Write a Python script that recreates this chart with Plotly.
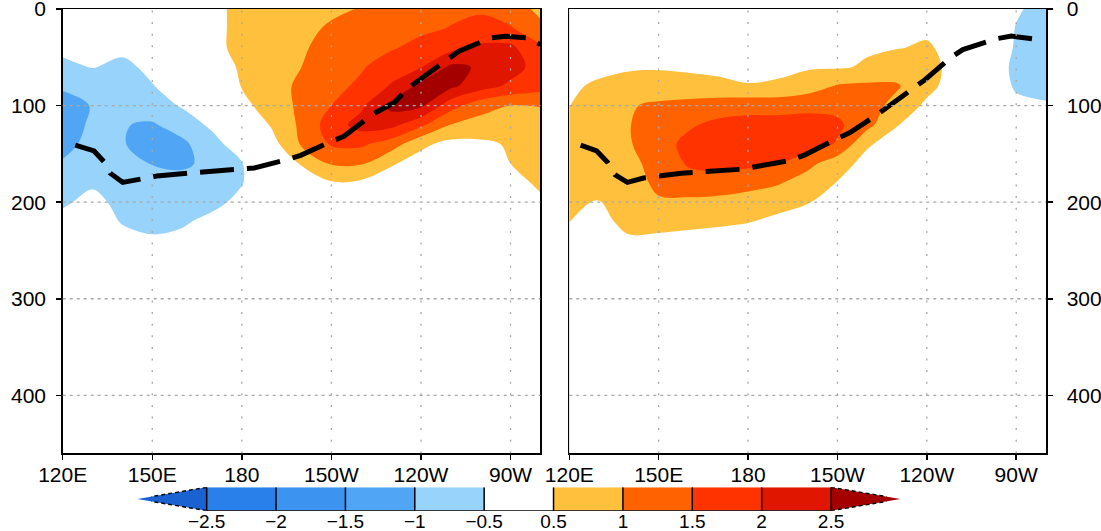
import plotly.graph_objects as go

# ---------------- data ----------------
lons = [120, 130, 140, 150, 160, 170, 180, 190, 200, 210, 220, 230, 240, 250, 260, 270, 280]
depths = [0, 20, 40, 60, 80, 100, 120, 140, 160, 180, 200, 220, 240, 280, 460]

# temperature anomaly (degC), rows = depths, cols = lons  (left panel)
left_anom = [
    [-0.2, -0.2, -0.1, 0.0, 0.2, 0.4, 0.6, 0.75, 0.85, 0.93, 1.02, 1.2, 1.3, 1.4, 1.45, 1.2, 0.9],
    [-0.3, -0.3, -0.2, 0.0, 0.2, 0.4, 0.6, 0.8, 0.9, 1.05, 1.2, 1.3, 1.4, 1.52, 1.62, 1.55, 1.1],
    [-0.4, -0.35, -0.4, -0.2, 0.1, 0.4, 0.6, 0.85, 0.95, 1.15, 1.35, 1.45, 1.65, 1.85, 2.1, 2.1, 1.6],
    [-0.6, -0.48, -0.6, -0.4, -0.1, 0.3, 0.55, 0.8, 1.0, 1.3, 1.45, 1.75, 1.98, 2.6, 2.45, 2.2, 1.8],
    [-0.95, -0.85, -0.75, -0.52, -0.3, 0.1, 0.52, 0.8, 1.1, 1.35, 1.6, 2.05, 2.65, 2.6, 2.2, 1.9, 1.7],
    [-1.15, -0.98, -0.95, -0.75, -0.45, -0.1, 0.35, 0.75, 1.1, 1.5, 1.9, 2.65, 2.6, 1.7, 1.2, 0.98, 1.02],
    [-1.15, -0.95, -0.98, -1.05, -0.8, -0.4, 0.0, 0.55, 1.1, 1.75, 2.2, 2.15, 1.6, 0.98, 0.8, 0.75, 0.8],
    [-1.1, -0.9, -0.97, -1.2, -1.1, -0.7, -0.2, 0.3, 1.05, 1.55, 1.58, 1.25, 0.6, 0.35, 0.4, 0.55, 0.6],
    [-0.97, -0.75, -0.8, -1.02, -1.1, -0.85, -0.52, -0.1, 0.55, 1.05, 1.05, 0.55, 0.3, 0.2, 0.3, 0.5, 0.6],
    [-0.75, -0.55, -0.7, -0.8, -0.8, -0.7, -0.52, -0.15, 0.2, 0.45, 0.4, 0.25, 0.15, 0.1, 0.2, 0.4, 0.55],
    [-0.55, -0.4, -0.6, -0.7, -0.7, -0.6, -0.4, -0.15, 0.05, 0.2, 0.2, 0.15, 0.1, 0.05, 0.1, 0.2, 0.45],
    [-0.4, -0.35, -0.52, -0.6, -0.55, -0.4, -0.25, -0.1, 0.0, 0.05, 0.1, 0.1, 0.05, 0.0, 0.05, 0.1, 0.2],
    [-0.3, -0.3, -0.4, -0.45, -0.4, -0.3, -0.2, -0.1, 0.0, 0.0, 0.05, 0.05, 0.0, 0.0, 0.0, 0.05, 0.1],
    [-0.15, -0.15, -0.2, -0.2, -0.2, -0.15, -0.1, -0.05, 0.0, 0.0, 0.0, 0.0, 0.0, 0.0, 0.0, 0.0, 0.05],
    [0.0] * 17,
]

# right panel
right_anom = [
    [0.1, 0.1, 0.15, 0.15, 0.2, 0.2, 0.2, 0.2, 0.25, 0.25, 0.3, 0.3, 0.3, 0.2, -0.1, -0.45, -0.65],
    [0.1, 0.15, 0.15, 0.2, 0.2, 0.2, 0.2, 0.25, 0.3, 0.35, 0.4, 0.42, 0.42, 0.3, -0.1, -0.52, -0.7],
    [0.25, 0.3, 0.3, 0.3, 0.3, 0.3, 0.3, 0.35, 0.4, 0.42, 0.45, 0.48, 0.55, 0.35, -0.1, -0.55, -0.7],
    [0.35, 0.42, 0.47, 0.47, 0.45, 0.43, 0.4, 0.42, 0.45, 0.45, 0.55, 0.75, 0.7, 0.3, -0.2, -0.6, -0.7],
    [0.45, 0.55, 0.6, 0.65, 0.62, 0.57, 0.52, 0.55, 0.75, 1.05, 1.1, 1.05, 0.65, 0.25, -0.2, -0.55, -0.65],
    [0.48, 0.75, 0.95, 1.1, 1.2, 1.3, 1.35, 1.35, 1.4, 1.35, 1.2, 0.85, 0.4, 0.15, -0.1, -0.4, -0.45],
    [0.7, 0.85, 0.98, 1.25, 1.45, 1.6, 1.65, 1.65, 1.65, 1.6, 1.15, 0.52, 0.25, 0.1, 0.0, -0.1, -0.15],
    [0.75, 0.8, 0.95, 1.35, 1.6, 1.75, 1.8, 1.75, 1.75, 1.45, 0.55, 0.3, 0.15, 0.1, 0.0, -0.05, -0.1],
    [0.7, 0.75, 0.85, 1.2, 1.55, 1.65, 1.6, 1.55, 1.15, 0.7, 0.35, 0.2, 0.1, 0.05, 0.0, 0.0, -0.05],
    [0.65, 0.65, 0.8, 1.1, 1.3, 1.3, 1.2, 1.05, 0.75, 0.48, 0.3, 0.15, 0.1, 0.05, 0.0, 0.0, 0.0],
    [0.55, 0.48, 0.75, 0.95, 0.9, 0.85, 0.75, 0.65, 0.52, 0.35, 0.2, 0.1, 0.05, 0.0, 0.0, 0.0, 0.0],
    [0.51, 0.4, 0.6, 0.65, 0.62, 0.58, 0.52, 0.4, 0.3, 0.2, 0.1, 0.05, 0.0, 0.0, 0.0, 0.0, 0.0],
    [0.3, 0.3, 0.45, 0.4, 0.35, 0.3, 0.25, 0.2, 0.15, 0.1, 0.05, 0.0, 0.0, 0.0, 0.0, 0.0, 0.0],
    [0.15, 0.15, 0.2, 0.2, 0.15, 0.15, 0.1, 0.1, 0.05, 0.05, 0.0, 0.0, 0.0, 0.0, 0.0, 0.0, 0.0],
    [0.0] * 17,
]

# thermocline (20C isotherm) depth
left_thermo_lon = [124.2, 130.5, 134.1, 135.9, 140.1, 146.1, 151.5, 161.8, 175.6, 184.1, 194.9, 199.7,
                   210.0, 214.2, 223.8, 231.0, 235.8, 249.1, 252.7, 263.6, 268.4, 275.6, 280.0]
left_thermo_dep = [141, 147, 159, 170, 179.5, 176, 173, 170, 167, 164.6, 156, 151.5,
                   137, 131.8, 109, 97, 81.7, 50.6, 43.7, 29.8, 28.2, 29.8, 36.8]
right_thermo_lon = [123.8, 129.2, 132.9, 135.3, 139.5, 144.9, 157.6, 177.4, 193.7, 199.1, 209.3, 214.2,
                    222.6, 235.9, 239.5, 247.9, 252.1, 263.0, 268.4, 275.6, 279.2]
right_thermo_dep = [141, 147, 159, 171.5, 179.5, 175, 170, 166, 157, 151, 135, 128,
                    111, 81.7, 73, 50.6, 42, 31, 28, 31, 35]

lon_ticks = [120, 150, 180, 210, 240, 270]
lon_labels = ["120E", "150E", "180", "150W", "120W", "90W"]
depth_ticks = [0, 100, 200, 300, 400]

cbar_levels = [-2.5, -2, -1.5, -1, -0.5, 0.5, 1, 1.5, 2, 2.5]
cbar_labels = ["\u22122.5", "\u22122", "\u22121.5", "\u22121", "\u22120.5", "0.5", "1", "1.5", "2", "2.5"]
band_colors = ["#1a62d2", "#2a80ea", "#3c93f0", "#50a6f4", "#97d3fa", "#ffffff",
               "#ffc13d", "#ff6200", "#ff3300", "#e01600", "#a50000"]

# ---------------- figure ----------------
W, H = 1101, 531
FONT = "Liberation Sans"

def px_x(p):
    return p / W

def px_y(p):
    return 1 - p / H

band12 = band_colors[:6] + ["#ffffff"] + band_colors[6:]
cscale = [[k / 11, c] for k, c in enumerate(band12)]

fig = go.Figure()

for anom, xa, ya in [(left_anom, "x", "y"), (right_anom, "x2", "y2")]:
    fig.add_trace(go.Contour(
        x=lons, y=depths, z=anom, xaxis=xa, yaxis=ya,
        autocontour=False,
        contours=dict(start=cbar_levels[0], end=cbar_levels[-1], size=0.5,
                      coloring="fill", showlines=False),
        colorscale=cscale, showscale=False, line=dict(width=0, smoothing=1.0),
        hoverinfo="skip",
    ))

for tl, td, xa, ya in [(left_thermo_lon, left_thermo_dep, "x", "y"),
                       (right_thermo_lon, right_thermo_dep, "x2", "y2")]:
    fig.add_trace(go.Scatter(
        x=tl, y=td, xaxis=xa, yaxis=ya, mode="lines",
        line=dict(color="black", width=5, dash="34px,13px"),
        hoverinfo="skip", showlegend=False,
    ))

# ---- colour bar (index axis) ----
idx = list(range(len(cbar_levels)))
for i in range(len(cbar_levels) - 1):
    col = band_colors[i + 1]
    fig.add_trace(go.Scatter(
        x=[idx[i], idx[i + 1], idx[i + 1], idx[i], idx[i]], y=[0, 0, 1, 1, 0],
        xaxis="x3", yaxis="y3", mode="lines", fill="toself", fillcolor=col,
        line=dict(width=0, color=col), hoverinfo="skip", showlegend=False))
for base, tip, col in [(idx[0], idx[0] - 1, band_colors[0]), (idx[-1], idx[-1] + 1, band_colors[-1])]:
    fig.add_trace(go.Scatter(
        x=[base, tip, base, base], y=[0, 0.5, 1, 0], xaxis="x3", yaxis="y3",
        mode="lines", fill="toself", fillcolor=col, line=dict(width=0, color=col),
        hoverinfo="skip", showlegend=False))
    k = 0.8
    tx = base + (tip - base) * k
    fig.add_trace(go.Scatter(
        x=[base, tx, None, base, tx], y=[1, 1 - 0.5 * k, None, 0, 0.5 * k],
        xaxis="x3", yaxis="y3", mode="lines",
        line=dict(color="black", width=1.5, dash="4px,3px"),
        hoverinfo="skip", showlegend=False))
sx, sy = [], []
for i in idx:
    sx += [i, i, None]
    sy += [0, 1, None]
sx += [idx[0], idx[-1]]
sy += [0, 0]
fig.add_trace(go.Scatter(x=sx, y=sy, xaxis="x3", yaxis="y3", mode="lines",
                         line=dict(color="black", width=1.5), hoverinfo="skip", showlegend=False))

# ---- grid lines above the shading ----
shapes = []
for xa, ya in [("x", "y"), ("x2", "y2")]:
    for lt in lon_ticks[1:]:
        shapes.append(dict(type="line", xref=xa, yref=ya + " domain", x0=lt, x1=lt, y0=0, y1=1,
                           line=dict(color="#a8a8a8", width=1.3, dash="2px,9.6px"), layer="above"))
    for dt in depth_ticks[1:]:
        shapes.append(dict(type="line", xref=xa + " domain", yref=ya, x0=0, x1=1, y0=dt, y1=dt,
                           line=dict(color="#a8a8a8", width=1.3, dash="3px,4px"), layer="above"))

tickfont = dict(family=FONT, size=21, color="black")
xcommon = dict(range=[120, 280], tickvals=lon_ticks, ticktext=lon_labels, ticks="outside",
               ticklen=5, tickwidth=1.5, tickcolor="black", showline=True, linecolor="black",
               linewidth=1.5, mirror=True, showgrid=False, zeroline=False, tickfont=tickfont,
               automargin=False, ticklabelstandoff=-3, ticklabeloverflow="allow")
ycommon = dict(range=[460, 0], tickvals=depth_ticks, ticks="outside", ticklen=5, tickwidth=1.5,
               tickcolor="black", showline=True, linecolor="black", linewidth=1.5, mirror=True,
               showgrid=False, zeroline=False, tickfont=tickfont, automargin=False,
               ticklabeloverflow="allow")

ydom = [px_y(453.3), px_y(9.0)]
fig.update_layout(
    template="none",
    width=W, height=H, margin=dict(l=0, r=0, t=0, b=0, autoexpand=False),
    paper_bgcolor="white", plot_bgcolor="white", showlegend=False,
    font=dict(family=FONT, color="black"),
    xaxis=dict(domain=[px_x(62.7), px_x(540.4)], anchor="y", **xcommon),
    yaxis=dict(domain=ydom, anchor="x", side="left", ticklabelstandoff=6, **ycommon),
    xaxis2=dict(domain=[px_x(569.3), px_x(1046)], anchor="y2", **xcommon),
    yaxis2=dict(domain=ydom, anchor="x2", side="right", ticklabelstandoff=10, **ycommon),
    xaxis3=dict(domain=[px_x(137.3), px_x(900.4)], anchor="y3", range=[-1, 10],
                tickvals=idx, ticktext=cbar_labels, ticks="", showline=False, showgrid=False,
                zeroline=False, automargin=False, ticklabelstandoff=-3, ticklabeloverflow="allow",
                tickfont=dict(family=FONT, size=19, color="black")),
    yaxis3=dict(domain=[px_y(510.7), px_y(487.3)], anchor="x3", range=[0, 1], visible=False,
                automargin=False),
    shapes=shapes,
)

# place the figure at the page's top-left corner (no default body margin)
fig.write_html("out.html", config={"displayModeBar": False, "staticPlot": True},
               post_script="document.body.style.margin='0px';")
